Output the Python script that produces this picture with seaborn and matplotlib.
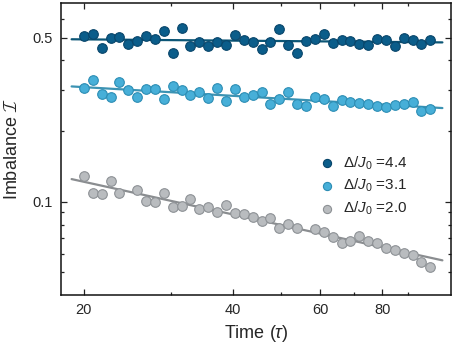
import matplotlib
matplotlib.use('Agg')
import matplotlib.pyplot as plt
from matplotlib.ticker import FixedLocator, FixedFormatter, NullFormatter
import seaborn as sns
import numpy as np
import pandas as pd

# sampling times (tau), log spaced
time = [20.0, 20.84, 21.72, 22.64, 23.59, 24.58, 25.62, 26.70, 27.82, 28.99,
        30.21, 31.49, 32.81, 34.20, 35.64, 37.14, 38.70, 40.33, 42.03, 43.80,
        45.64, 47.57, 49.57, 51.66, 53.83, 56.10, 58.46, 60.93, 63.49, 66.17,
        68.95, 71.86, 74.88, 78.04, 81.32, 84.75, 88.32, 92.04, 95.91, 99.95]

imb_44 = [0.510, 0.520, 0.453, 0.500, 0.505, 0.471, 0.485, 0.510, 0.492, 0.535,
          0.430, 0.551, 0.462, 0.481, 0.462, 0.478, 0.467, 0.515, 0.489, 0.479,
          0.449, 0.481, 0.544, 0.464, 0.432, 0.483, 0.492, 0.518, 0.473, 0.489,
          0.483, 0.471, 0.467, 0.495, 0.489, 0.461, 0.499, 0.487, 0.471, 0.489]

imb_31 = [0.305, 0.330, 0.288, 0.280, 0.324, 0.299, 0.279, 0.301, 0.301, 0.273,
          0.312, 0.299, 0.285, 0.294, 0.278, 0.304, 0.268, 0.301, 0.280, 0.284,
          0.294, 0.261, 0.274, 0.293, 0.261, 0.257, 0.280, 0.273, 0.257, 0.271,
          0.267, 0.263, 0.261, 0.256, 0.253, 0.258, 0.261, 0.267, 0.244, 0.249]

imb_20 = [0.1283, 0.1087, 0.1080, 0.1221, 0.1094, np.nan, 0.1121, 0.1007, 0.1002, 0.1087,
          0.0954, 0.0961, 0.1025, 0.0936, 0.0948, 0.0900, 0.0966, 0.0893, 0.0885, 0.0859,
          0.0824, 0.0854, 0.0773, 0.0806, 0.0775, np.nan, 0.0762, 0.0745, 0.0706, 0.0669,
          0.0682, 0.0716, 0.0682, 0.0669, 0.0637, 0.0625, 0.0604, 0.0592, 0.0555, 0.0529]

labels = [r'$\Delta/J_0$ =4.4', r'$\Delta/J_0$ =3.1', r'$\Delta/J_0$ =2.0']
face_colors = ['#0b5d8a', '#47afd8', '#b9bcbf']
edge_colors = ['#08456a', '#2c8db4', '#8d9195']
line_colors = ['#0c5676', '#3c93b3', '#8a8d90']

sns.set_style('ticks')
plt.rcParams['font.family'] = ['Liberation Sans', 'DejaVu Sans']
plt.rcParams['mathtext.fontset'] = 'custom'
plt.rcParams['mathtext.rm'] = 'Liberation Sans'
plt.rcParams['mathtext.it'] = 'Liberation Sans:italic'
plt.rcParams['mathtext.cal'] = 'cmsy10'

series = [imb_44, imb_31, imb_20]
df = pd.DataFrame({
    'time': time * 3,
    'imbalance': imb_44 + imb_31 + imb_20,
    'label': [lab for lab in labels for _ in time],
})

fig = plt.figure(figsize=(4.56, 3.46), dpi=100)
ax = fig.add_axes([0.134, 0.147, 0.855, 0.843])

# power-law fits in log-log space
t_fit = np.geomspace(18.9, 105.7, 50)
fit_rows = []
for lab, vals in zip(labels, series):
    t = np.array(time)
    v = np.array(vals)
    ok = ~np.isnan(v)
    slope, icpt = np.polyfit(np.log(t[ok]), np.log(v[ok]), 1)
    for tf in t_fit:
        fit_rows.append({'time': tf, 'imbalance': np.exp(icpt) * tf ** slope, 'label': lab})
fit_df = pd.DataFrame(fit_rows)

sns.lineplot(data=fit_df, x='time', y='imbalance', hue='label', hue_order=labels,
             palette=line_colors, linewidth=1.6, legend=False, ax=ax, zorder=2)

for lab, fc, ec in zip(labels, face_colors, edge_colors):
    sub = df[df['label'] == lab]
    sns.scatterplot(data=sub, x='time', y='imbalance', color=fc, edgecolor=ec,
                    linewidth=0.8, s=48, label=lab, ax=ax, zorder=3)

ax.set_xscale('log')
ax.set_yscale('log')
ax.set_xlim(18, 110)
ax.set_ylim(0.04, 0.7)

ax.xaxis.set_major_locator(FixedLocator([20, 40, 60, 80]))
ax.xaxis.set_major_formatter(FixedFormatter(['20', '40', '60', '80']))
ax.xaxis.set_minor_locator(FixedLocator([30, 50, 70, 90]))
ax.xaxis.set_minor_formatter(NullFormatter())
ax.yaxis.set_major_locator(FixedLocator([0.1, 0.5]))
ax.yaxis.set_major_formatter(FixedFormatter(['0.1', '0.5']))
ax.yaxis.set_minor_locator(FixedLocator([0.05, 0.06, 0.07, 0.08, 0.09, 0.2, 0.3, 0.4, 0.6]))
ax.yaxis.set_minor_formatter(NullFormatter())

ax.tick_params(which='both', direction='in', top=True, right=True, width=0.9,
               labelsize=10.5, pad=6, color='#222222')
ax.tick_params(which='major', length=4)
ax.tick_params(which='minor', length=2.2)
for sp in ax.spines.values():
    sp.set_linewidth(1.1)
    sp.set_color('#111111')

ax.set_xlabel(r'Time ($\tau$)', fontsize=13, labelpad=4)
ax.set_ylabel(r'Imbalance $\mathcal{I}$', fontsize=13, labelpad=8)

ax.legend(loc='center left', bbox_to_anchor=(0.64, 0.375), frameon=False,
          fontsize=11, handlelength=0.8, handletextpad=0.6, labelspacing=0.35,
          markerscale=0.85, borderpad=0.2)

fig.savefig('out.png', dpi=100)
